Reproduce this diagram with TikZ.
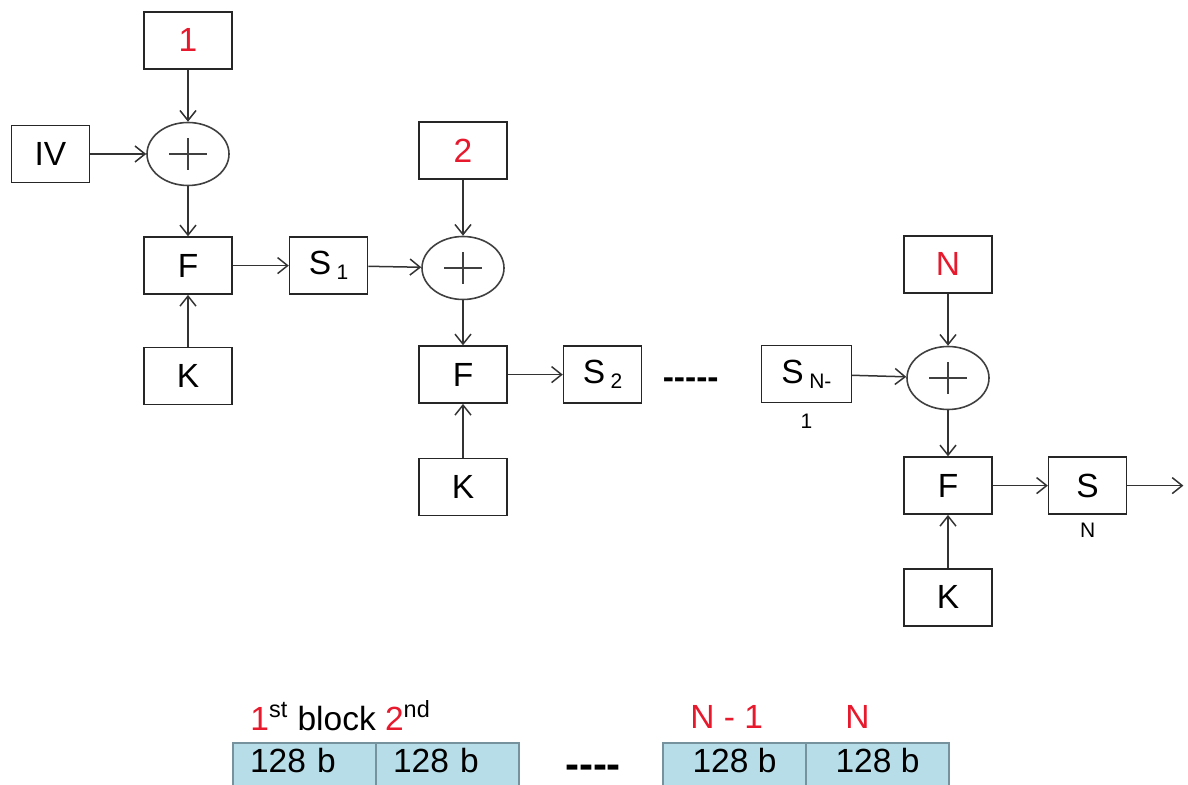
\documentclass[tikz,border=0pt]{standalone}
\usepackage{fontspec}
\setmainfont{Liberation Sans}
\usetikzlibrary{arrows.meta,positioning,shapes.geometric}
\definecolor{BlockRed}{RGB}{230,25,45}
\definecolor{LineGray}{RGB}{51,51,51}
\definecolor{CellBlue}{RGB}{183,221,232}
\definecolor{CellEdge}{RGB}{118,146,156}
\newcommand{\mainsz}{\fontsize{16.75}{20}\selectfont}
\newcommand{\subsz}{\fontsize{10.5}{12}\selectfont}
\newcommand{\lowsub}[1]{\,\raisebox{-2.5pt}{\subsz #1}}
\tikzset{
  block/.style={draw=black!85,line width=0.8pt,minimum width=44pt,
    minimum height=28.5pt,inner sep=1pt,font=\mainsz},
  sbox/.style={block,minimum width=39pt},
  xorop/.style={ellipse,draw=black!75,line width=0.8pt,minimum width=41pt,
    minimum height=31.5pt,inner sep=0pt,
    path picture={
      \draw[line width=0.6pt] ([xshift=-9.5pt]path picture bounding box.center)
        -- ([xshift=9.5pt]path picture bounding box.center);
      \draw[line width=0.6pt] ([yshift=-8pt]path picture bounding box.center)
        -- ([yshift=8pt]path picture bounding box.center);}},
  sublabel/.style={inner sep=0pt,font=\subsz},
  cell/.style={draw=CellEdge,fill=CellBlue,line width=1pt,minimum width=71.5pt,
    text height=12.5pt,text depth=9pt,inner xsep=2pt,inner ysep=2pt,
    outer sep=0pt,font=\mainsz,anchor=north west},
  leftcell/.style={cell,inner xsep=8.5pt,text width=54.5pt,align=left},
  arrow/.style={-{Straight Barb[length=5pt,width=8pt]},line width=0.75pt,LineGray}
}
\begin{document}
\begin{tikzpicture}[x=0.5pt,y=-0.5pt]
  \useasboundingbox (0,0) rectangle (1188,785);
  \clip (0,0) rectangle (1188,785);
  % block 1
  \node[xorop] (x1) at (188,154) {};
  \node[block,above=26pt of x1] (m1) {\textcolor{BlockRed}{1}};
  \node[sbox,left=28pt of x1] (iv) {IV};
  \node[block,below=25pt of x1] (f1) {F};
  \node[block,below=26pt of f1] (k1) {K};
  \node[sbox,right=28pt of f1] (s1) {S\lowsub{1}};
  % block 2
  \node[xorop] (x2) at (463,268) {};
  \node[block,above=28pt of x2] (m2) {\textcolor{BlockRed}{2}};
  \node[block,below=22.5pt of x2] (f2) {F};
  \node[block,below=27pt of f2] (k2) {K};
  \node[sbox,right=27.5pt of f2] (s2) {S\lowsub{2}};
  \node[inner sep=0pt,font=\mainsz\bfseries,right=10pt of s2,yshift=-4.5pt] (gap1) {-{}-{}-{}-{}-};
  % block N
  \node[xorop] (xn) at (948,378) {};
  \node[block,above=26pt of xn] (mn) {\textcolor{BlockRed}{N}};
  \node[block,minimum width=45pt,left=27pt of xn,yshift=2pt] (sn1) {S\lowsub{N-}};
  \node[sublabel,below=5pt of sn1] (sn1lab) {1};
  \node[block,below=23pt of xn] (fn) {F};
  \node[block,below=26.5pt of fn] (kn) {K};
  \node[sbox,right=27.5pt of fn] (sn) {S};
  \node[sublabel,below=4pt of sn] (snlab) {N};
  \coordinate[right=28pt of sn] (out);

  \draw[arrow] (m1) -- (x1);
  \draw[arrow] (iv) -- (x1);
  \draw[arrow] (x1) -- (f1);
  \draw[arrow] (k1) -- (f1);
  \draw[arrow] (f1) -- (s1);
  \draw[arrow] (s1) -- (x2);
  \draw[arrow] (m2) -- (x2);
  \draw[arrow] (x2) -- (f2);
  \draw[arrow] (k2) -- (f2);
  \draw[arrow] (f2) -- (s2);
  \draw[arrow] (sn1) -- (xn);
  \draw[arrow] (mn) -- (xn);
  \draw[arrow] (xn) -- (fn);
  \draw[arrow] (kn) -- (fn);
  \draw[arrow] (fn) -- (sn);
  \draw[arrow] (sn) -- (out);

  % message blocks
  \node[anchor=base west,inner sep=0pt,font=\mainsz] (lab12) at (250,730)
    {\textcolor{BlockRed}{1}\textsuperscript{st} block \textcolor{BlockRed}{2}\textsuperscript{nd}};
  \node[anchor=base west,inner sep=0pt,font=\mainsz,text=BlockRed] (labn1) at (690,728) {N - 1};
  \node[anchor=base west,inner sep=0pt,font=\mainsz,text=BlockRed] (labn) at (845,728) {N};
  \node[leftcell] (c1) at (233,743) {128 b};
  \node[leftcell] (c2) at (c1.north east) {128 b};
  \node[inner sep=0pt,font=\fontsize{21}{24}\selectfont\bfseries] (gap2) at (593,772) {-{}-{}-{}-};
  \node[cell] (c3) at (663,743) {128 b};
  \node[cell] (c4) at (c3.north east) {128 b};
\end{tikzpicture}
\end{document}
